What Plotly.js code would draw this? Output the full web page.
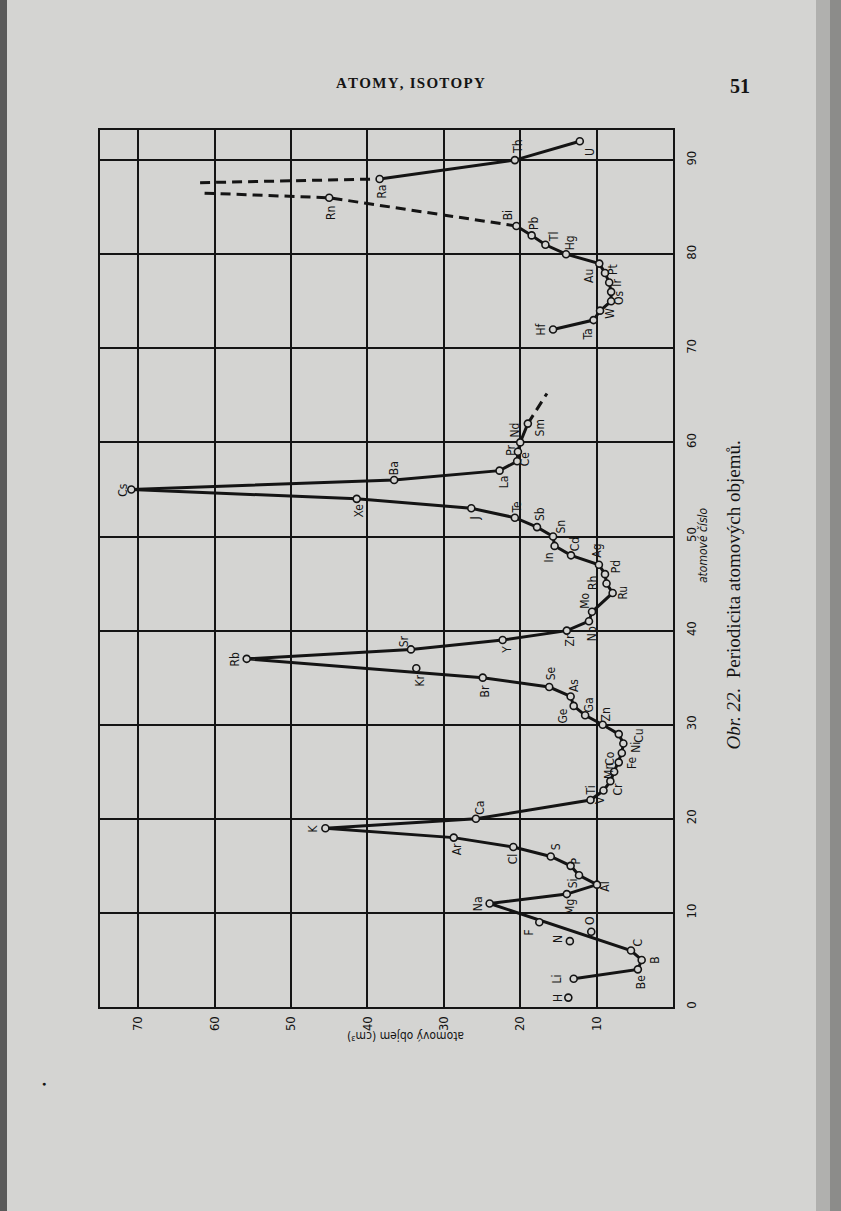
<!DOCTYPE html>
<html><head><meta charset="utf-8">
<script src="https://cdn.plot.ly/plotly-3.0.1.min.js"></script>
<style>html,body{margin:0;padding:0;background:#d4d4d2;} #chart{width:841px;height:1211px;}</style>
</head><body><div id="chart"></div>
<script>
// ---- DATA: atomic number (Z) and atomic volume (cm3) ----
// main solid curve Li ... Sm
const seg1Sym = ['Li','Be','B','C','Na','Mg','Al','Si','P','S','Cl','Ar','K','Ca','Ti','V','Cr','Mn','Fe','Co','Ni','Cu','Zn','Ga','Ge','As','Se','Br','Rb','Sr','Y','Zr','Nb','Mo','Ru','Rh','Pd','Ag','Cd','In','Sn','Sb','Te','J','Xe','Cs','Ba','La','Ce','Pr','Nd','Sm'];
const seg1Z = [3,4,5,6,11,12,13,14,15,16,17,18,19,20,22,23,24,25,26,27,28,29,30,31,32,33,34,35,37,38,39,40,41,42,44,45,46,47,48,49,50,51,52,53,54,55,56,57,58,59,60,62];
const seg1V = [13.0,4.6,4.1,5.5,24.0,13.9,9.95,12.3,13.4,16.0,20.9,28.7,45.5,25.8,10.8,9.1,8.2,7.7,7.1,6.7,6.5,7.1,9.2,11.5,13.0,13.4,16.2,24.9,55.8,34.3,22.3,13.9,11.0,10.6,7.9,8.7,8.9,9.7,13.35,15.5,15.7,17.8,20.7,26.4,41.4,70.9,36.5,22.7,20.4,20.3,20.0,19.0];
// solid curve Hf ... Bi
const seg2Sym = ['Hf','Ta','W','Re','Os','Ir','Pt','Au','Hg','Tl','Pb','Bi'];
const seg2Z = [72,73,74,75,76,77,78,79,80,81,82,83];
const seg2V = [15.7,10.4,9.55,8.1,8.1,8.35,8.9,9.65,14.0,16.7,18.5,20.5];
// solid curve Ra ... U
const seg3Sym = ['Ra','Th','U'];
const seg3Z = [88,90,92];
const seg3V = [38.4,20.7,12.2];
// unconnected points
const sepSym = ['H','N','O','F','Kr','Rn'];
const sepZ = [1,7,8,9,36,86];
const sepV = [13.7,13.5,10.7,17.5,33.6,45.0];
// dashed (extrapolated) courses
const dashRnZ = [83,86,86.5];
const dashRnV = [20.5,45.0,61.7];
const dashRaZ = [87.6,88];
const dashRaV = [61.9,38.4];
const dashSmZ = [62,65.2];
const dashSmV = [19.0,16.5];
// axis ticks
const volTicks = [10,20,30,40,50,60,70];
const zTicks = [0,10,20,30,40,50,60,70,80,90];

// ---- label placement (style, screen px: [dx, dy], dy positive = down) ----
const labelOff = {
 H:[-11,0],Li:[-17,0],Be:[3,13],B:[13,0],C:[7,-8],N:[-12,-2],O:[-2,-11],F:[-10,10],
 Na:[-11,0],Mg:[3,13],Al:[8,2],Si:[-6,8],P:[5,-5],S:[6,-10],Cl:[0,12],Ar:[3,12],
 K:[-12,0],Ca:[4,-11],Ti:[0,-10],V:[-4,9],Cr:[8,8],Mn:[-5,-1],Fe:[14,0],Co:[-12,5],
 Ni:[12,4],Cu:[20,2],Zn:[3,-10],Ga:[4,-10],Ge:[-11,10],As:[4,-11],Se:[2,-14],Br:[2,14],
 Kr:[4,12],Rb:[-12,0],Sr:[-7,-8],Y:[4,10],Zr:[3,10],Nb:[3,12],Mo:[-7,-11],Ru:[10,0],
 Rh:[-14,0],Pd:[11,-7],Ag:[-2,-14],Cd:[4,-11],In:[-6,12],Sn:[7,-10],Sb:[3,-13],Te:[2,-11],
 J:[4,10],Xe:[2,12],Cs:[-8,0],Ba:[0,-12],La:[4,11],Ce:[8,-2],Pr:[-7,-2],Nd:[-5,-12],Sm:[12,4],
 Hf:[-12,0],Ta:[-5,15],W:[10,3],Os:[8,6],Ir:[8,0],Pt:[8,-3],Au:[-11,12],Hg:[4,-11],
 Tl:[8,-8],Pb:[3,-12],Bi:[-8,-11],Rn:[2,15],Ra:[2,13],Th:[3,-13],U:[10,11]
};

const W=841,H=1211, M={l:100,r:168,t:130,b:204};
const pw=W-M.l-M.r, ph=H-M.t-M.b;
const pX = x=>(x-M.l)/pw, pY = y=>(H-M.b-y)/ph;
const INK='#141414', PAPER='#d4d4d2';
const LBL="'DejaVu Sans Condensed','Liberation Sans Narrow','Roboto Condensed',sans-serif";
const SERIF="'Liberation Serif','DejaVu Serif',serif";

const solid = {color:INK,width:3};
const dashL = {color:INK,width:3,dash:'10px,6px'};
const traces = [
 {x:seg1V,y:seg1Z,mode:'lines',line:solid,hoverinfo:'skip'},
 {x:seg2V,y:seg2Z,mode:'lines',line:solid,hoverinfo:'skip'},
 {x:seg3V,y:seg3Z,mode:'lines',line:solid,hoverinfo:'skip'},
 {x:dashRnV,y:dashRnZ,mode:'lines',line:dashL,hoverinfo:'skip'},
 {x:dashRaV,y:dashRaZ,mode:'lines',line:dashL,hoverinfo:'skip'},
 {x:dashSmV,y:dashSmZ,mode:'lines',line:dashL,hoverinfo:'skip'},
];
const allSym=[...seg1Sym,...seg2Sym,...seg3Sym,...sepSym];
const allZ=[...seg1Z,...seg2Z,...seg3Z,...sepZ];
const allV=[...seg1V,...seg2V,...seg3V,...sepV];
traces.push({x:allV,y:allZ,mode:'markers',cliponaxis:false,hoverinfo:'skip',
  marker:{symbol:'circle',size:7,color:PAPER,line:{color:INK,width:1.6}}});

const ann=[];
allSym.forEach((s,i)=>{
  const o=labelOff[s]; if(!o) return;
  ann.push({x:allV[i],y:allZ[i],xref:'x',yref:'y',text:s,showarrow:false,textangle:-90,
    xshift:o[0],yshift:-o[1],font:{family:LBL,size:12,color:INK}});
});
// texts
const hs='\u200A';
ann.push({xref:'paper',yref:'paper',x:pX(410),y:pY(73),text:'ATOMY, ISOTOPY'.split('').join(hs),showarrow:false,
  font:{family:SERIF,size:15,color:INK,weight:700}});
ann.push({xref:'paper',yref:'paper',x:pX(752),y:pY(73),text:'51',showarrow:false,
  font:{family:SERIF,size:20,color:INK,weight:700}});
ann.push({xref:'paper',yref:'paper',x:pX(406),y:pY(1045),text:'atomový objem (cm³)',showarrow:false,textangle:180,
  font:{family:LBL,size:12,color:INK}});
ann.push({xref:'paper',yref:'paper',x:pX(712),y:pY(545),text:'<i>atomové číslo</i>',showarrow:false,textangle:-90,
  font:{family:LBL,size:12,color:INK}});
ann.push({xref:'paper',yref:'paper',x:pX(745),y:pY(595),text:'<i>Obr. 22.</i>  Periodicita atomových objemů.',showarrow:false,textangle:-90,
  font:{family:SERIF,size:19,color:INK}});
ann.push({xref:'paper',yref:'paper',x:pX(40),y:pY(1090),text:'●',showarrow:false,
  font:{family:SERIF,size:7,color:INK}});

const shapes=[
 {type:'rect',xref:'paper',yref:'paper',x0:pX(0),x1:pX(7),y0:pY(1211),y1:pY(0),fillcolor:'#5a5a5a',line:{width:0},layer:'below'},
 {type:'rect',xref:'paper',yref:'paper',x0:pX(816),x1:pX(841),y0:pY(1211),y1:pY(0),fillcolor:'#b0b0ae',line:{width:0},layer:'below'},
 {type:'rect',xref:'paper',yref:'paper',x0:pX(830),x1:pX(841),y0:pY(1211),y1:pY(0),fillcolor:'#8c8c8a',line:{width:0},layer:'below'}
];

const axBase={showgrid:true,gridcolor:INK,gridwidth:2,showline:true,mirror:true,linecolor:INK,linewidth:2,
  zeroline:false,ticks:'',tickangle:-90,tickfont:{family:LBL,size:13,color:INK},fixedrange:true};
const layout={
  width:W,height:H,margin:M,paper_bgcolor:PAPER,plot_bgcolor:PAPER,showlegend:false,
  xaxis:Object.assign({},axBase,{range:[75,0],tickvals:volTicks,ticktext:volTicks.map(String),side:'bottom',ticklabelstandoff:2}),
  yaxis:Object.assign({},axBase,{range:[0,93.2],tickvals:zTicks,ticktext:zTicks.map(String),side:'right',ticklabelstandoff:5}),
  annotations:ann,shapes:shapes
};
Plotly.newPlot('chart',traces,layout,{staticPlot:true,displayModeBar:false});
</script></body></html>
